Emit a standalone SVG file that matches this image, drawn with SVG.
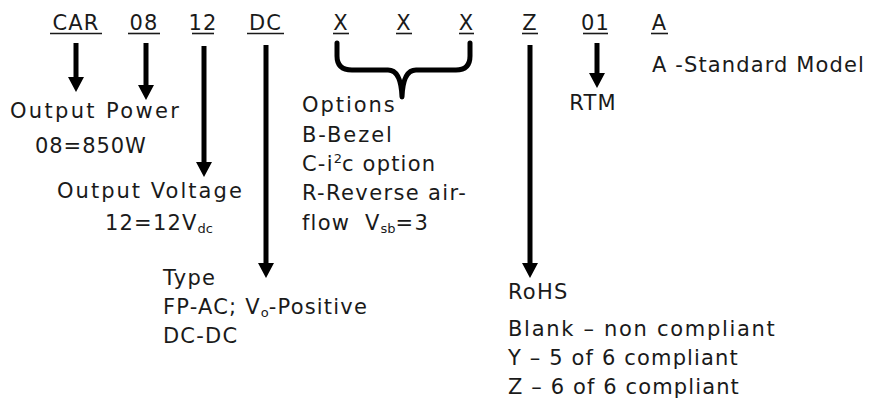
<svg xmlns="http://www.w3.org/2000/svg" width="880" height="402" viewBox="0 0 880 402">
<style>
text{font-family:"DejaVu Sans","Noto Sans",sans-serif;font-size:21px;fill:#1a1a1a;letter-spacing:1.2px}
.code{text-anchor:middle}
.ul{stroke:#1a1a1a;stroke-width:1.6}
.arr{stroke:#000;stroke-width:5;fill:none;marker-end:url(#ah)}
.brace{stroke:#000;stroke-width:5;fill:none;stroke-linecap:round;stroke-linejoin:round}
.sub{font-size:13px;letter-spacing:0}
</style>
<defs>
<marker id="ah" markerUnits="userSpaceOnUse" viewBox="0 0 15 16" refX="0" refY="8" markerWidth="15" markerHeight="16" orient="auto">
<path d="M0,0 L15,8 L0,16 z" fill="#000"/>
</marker>
</defs>
<rect width="880" height="402" fill="#fff"/>
<g id="codes">
<g id="code-car"><text class="code" x="76" y="30">CAR</text><line class="ul" x1="50" y1="33.5" x2="102" y2="33.5"/></g>
<g id="code-08"><text class="code" x="144" y="30">08</text><line class="ul" x1="128" y1="33.5" x2="160" y2="33.5"/></g>
<g id="code-12"><text class="code" x="203" y="30">12</text><line class="ul" x1="192" y1="33.5" x2="214" y2="33.5"/></g>
<g id="code-dc"><text class="code" x="265.5" y="30">DC</text><line class="ul" x1="247" y1="33.5" x2="284" y2="33.5"/></g>
<g id="code-x1"><text class="code" x="341" y="30">X</text><line class="ul" x1="333" y1="33.5" x2="349" y2="33.5"/></g>
<g id="code-x2"><text class="code" x="404" y="30">X</text><line class="ul" x1="396" y1="33.5" x2="412" y2="33.5"/></g>
<g id="code-x3"><text class="code" x="466.5" y="30">X</text><line class="ul" x1="459" y1="33.5" x2="474" y2="33.5"/></g>
<g id="code-z"><text class="code" x="530" y="30">Z</text><line class="ul" x1="522" y1="33.5" x2="538" y2="33.5"/></g>
<g id="code-01"><text class="code" x="595.5" y="30">01</text><line class="ul" x1="583" y1="33.5" x2="608" y2="33.5"/></g>
<g id="code-a"><text class="code" x="659.5" y="30">A</text><line class="ul" x1="651" y1="33.5" x2="668" y2="33.5"/></g>
</g>
<g id="connectors">
<line class="arr" x1="76" y1="43" x2="76" y2="77"/>
<line class="arr" x1="146" y1="43" x2="146" y2="85"/>
<line class="arr" x1="204" y1="46" x2="204" y2="162"/>
<line class="arr" x1="266" y1="45" x2="266" y2="263"/>
<line class="arr" x1="530" y1="45" x2="530" y2="263"/>
<line class="arr" x1="597" y1="43" x2="597" y2="73"/>
<path class="brace" d="M337,43 L337,56 Q337,70 352,70 L388,70 Q401,70 402,97 Q403,70 416,70 L456,70 Q470,70 470,56 L470,43"/>
</g>
<g id="power">
<text x="10" y="118" textLength="170" lengthAdjust="spacing">Output Power</text>
<text x="35" y="153" textLength="112" lengthAdjust="spacing">08=850W</text>
</g>
<g id="voltage">
<text x="57" y="198" textLength="186" lengthAdjust="spacing">Output Voltage</text>
<text x="105" y="230">12=12V<tspan class="sub" dy="3">dc</tspan></text>
</g>
<g id="options">
<text x="302" y="112" textLength="94" lengthAdjust="spacing">Options</text>
<text x="302" y="142" textLength="91" lengthAdjust="spacing">B-Bezel</text>
<text x="302" y="171">C-i<tspan class="sub" dy="-8">2</tspan><tspan dy="8">c option</tspan></text>
<text x="302" y="200" textLength="165" lengthAdjust="spacing">R-Reverse air-</text>
<text x="302" y="230">flow<tspan x="365">V</tspan><tspan class="sub" dy="3">sb</tspan><tspan dy="-3">=3</tspan></text>
</g>
<g id="type">
<text x="163" y="285">Type</text>
<text x="163" y="314">FP-AC; V<tspan class="sub" dy="3">o</tspan><tspan dy="-3">-Positive</tspan></text>
<text x="163" y="343">DC-DC</text>
</g>
<g id="rohs">
<text x="508" y="299">RoHS</text>
<text x="508" y="336" textLength="268" lengthAdjust="spacing">Blank – non compliant</text>
<text x="508" y="365" textLength="231" lengthAdjust="spacing">Y – 5 of 6 compliant</text>
<text x="508" y="394" textLength="232" lengthAdjust="spacing">Z – 6 of 6 compliant</text>
</g>
<g id="rtm"><text x="593" y="110" text-anchor="middle">RTM</text></g>
<g id="model"><text x="652" y="72" textLength="213" lengthAdjust="spacing">A -Standard Model</text></g>
</svg>
